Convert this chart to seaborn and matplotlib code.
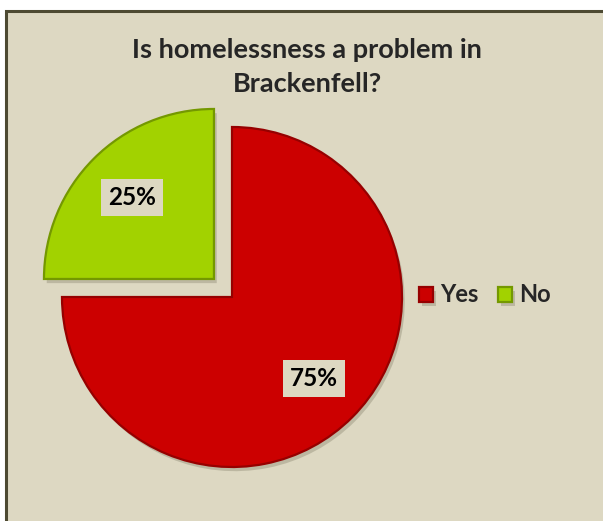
import matplotlib
matplotlib.use("Agg")
import matplotlib.pyplot as plt
import matplotlib.patheffects as pe
from matplotlib.patches import Rectangle
import seaborn as sns

# Survey answers
categories = ["Yes", "No"]
shares = [75, 25]
slice_colors = ["#cc0000", "#a2d200"]
edge_colors = ["#960000", "#749800"]

title = "Is homelessness a problem in\nBrackenfell?"
bg = "#ddd8c2"

sns.set_style("white")
plt.rcParams["font.family"] = ["Lato", "DejaVu Sans"]

fig = plt.figure(figsize=(6.03, 5.21), dpi=100)
fig.patch.set_facecolor("white")

# chart area panel with a dark border
fig.add_artist(Rectangle((6 / 603, -0.05), 1.2, 1 - 11 / 521 + 0.05,
                         transform=fig.transFigure, facecolor=bg,
                         edgecolor="#4d4a32", linewidth=2.2, zorder=0))

ax = fig.add_axes([28 / 603, 20 / 521, 408 / 603, 408 / 521])
ax.set_facecolor("none")
ax.set_axis_off()

wedges, texts, autotexts = ax.pie(
    shares, colors=slice_colors, startangle=90, counterclock=False,
    explode=[0, 0.15], autopct="%d%%", pctdistance=0.68,
    wedgeprops=dict(linewidth=1.6),
    textprops=dict(fontsize=17.5, fontweight="bold", color="black"),
)
for w, ec in zip(wedges, edge_colors):
    w.set_edgecolor(ec)
    w.set_path_effects([pe.SimplePatchShadow(offset=(2, -3), alpha=0.25,
                                             shadow_rgbFace="#5a5640"),
                        pe.Normal()])
for t in autotexts:
    t.set_bbox(dict(facecolor=bg, edgecolor="none", pad=5))
ax.set_xlim(-1.2, 1.2)
ax.set_ylim(-1.2, 1.2)

fig.text(307 / 603, 1 - 67 / 521, title, ha="center", va="center",
         fontsize=19.5, fontweight="bold", linespacing=1.45)

fig.legend(wedges, categories, loc="center left",
           bbox_to_anchor=(398 / 603, 1 - 295 / 521), ncol=2,
           frameon=False, handlelength=0.6, handleheight=0.6,
           handletextpad=0.3, columnspacing=0.8,
           prop=dict(size=17, weight="bold"))

fig.savefig("out.png", dpi=100, facecolor=fig.get_facecolor())
